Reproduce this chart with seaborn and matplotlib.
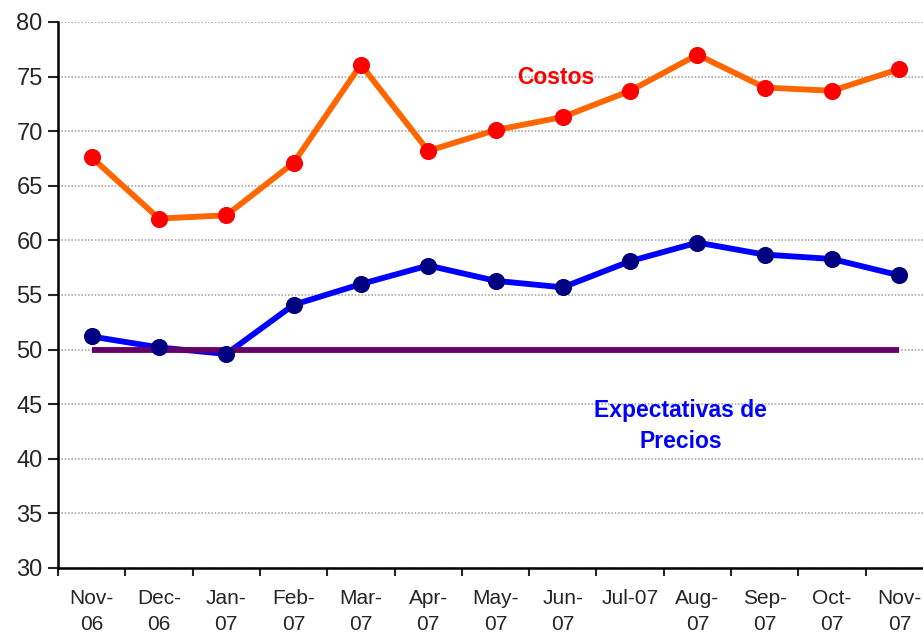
import numpy as np
import pandas as pd
import matplotlib
matplotlib.use("Agg")
import matplotlib.pyplot as plt
import seaborn as sns

# ====================== 数据 ======================
meses = ["Nov-\n06", "Dec-\n06", "Jan-\n07", "Feb-\n07", "Mar-\n07", "Apr-\n07",
         "May-\n07", "Jun-\n07", "Jul-07", "Aug-\n07", "Sep-\n07", "Oct-\n07", "Nov-\n07"]
costos = [67.6, 62.0, 62.3, 67.1, 76.1, 68.2, 70.1, 71.3, 73.7, 77.0, 74.0, 73.7, 75.7]
expectativas = [51.2, 50.2, 49.6, 54.1, 56.0, 57.7, 56.3, 55.7, 58.1, 59.8, 58.7, 58.3, 56.8]
umbral = 50

df = pd.DataFrame({"mes": meses, "Costos": costos, "Expectativas": expectativas})

sns.set_style("white")
plt.rcParams["font.family"] = ["Liberation Sans", "DejaVu Sans"]

fig = plt.figure(figsize=(9.23, 6.36), dpi=100)
# 右侧与原图一样被裁掉一点
ax = fig.add_axes([58 / 923, 68 / 636, 875 / 923, 546 / 636])

# 线
sns.lineplot(data=df, x="mes", y="Costos", color="#FF6600", lw=4.2, sort=False, ax=ax, zorder=2)
sns.lineplot(data=df, x="mes", y="Expectativas", color="#0000FF", lw=4.2, sort=False, ax=ax, zorder=2)
ax.hlines(umbral, 0, len(meses) - 1, color="#660066", lw=4.2, zorder=3)

# 标记点
sns.scatterplot(data=df, x="mes", y="Costos", color="#FF0000", s=130, marker="o",
                edgecolor="#FF0000", ax=ax, zorder=4)
sns.scatterplot(data=df, x="mes", y="Expectativas", color="#000080", s=130, marker="o",
                edgecolor="#000080", ax=ax, zorder=4)

# 坐标轴
ax.set_ylim(30, 80)
ax.set_yticks(np.arange(30, 81, 5))
ax.set_xlim(-0.5, len(meses) - 0.5)
ax.set_xticks(np.arange(len(meses) + 1) - 0.5)
ax.set_xticklabels([])
ax.set_xticks(np.arange(len(meses)), minor=True)
ax.set_xticklabels(meses, minor=True, linespacing=1.45)
ax.tick_params(axis="x", which="major", direction="out", length=6, width=1.5, bottom=True)
ax.tick_params(axis="x", which="minor", length=0, pad=15, labelsize=15)
ax.tick_params(axis="y", direction="out", length=7, width=1.5, left=True, labelsize=17, pad=4)

ax.yaxis.grid(True, color="#aaaaaa", linestyle=(0, (1, 1)), lw=1.2)
ax.set_axisbelow(True)
for s in ["top", "right"]:
    ax.spines[s].set_visible(False)
for s in ["left", "bottom"]:
    ax.spines[s].set_color("black")
    ax.spines[s].set_linewidth(1.8)
ax.set_xlabel("")
ax.set_ylabel("")

# 注释
ax.text(6.9, 74.9, "Costos", color="#FF0000", fontsize=16.5, fontweight="bold", ha="center", va="center")
ax.text(8.75, 43.0, "Expectativas de\nPrecios", color="#0000FF", fontsize=16.5, fontweight="bold",
        ha="center", va="center", linespacing=1.4)

plt.savefig("out.png", dpi=100)
plt.close()
